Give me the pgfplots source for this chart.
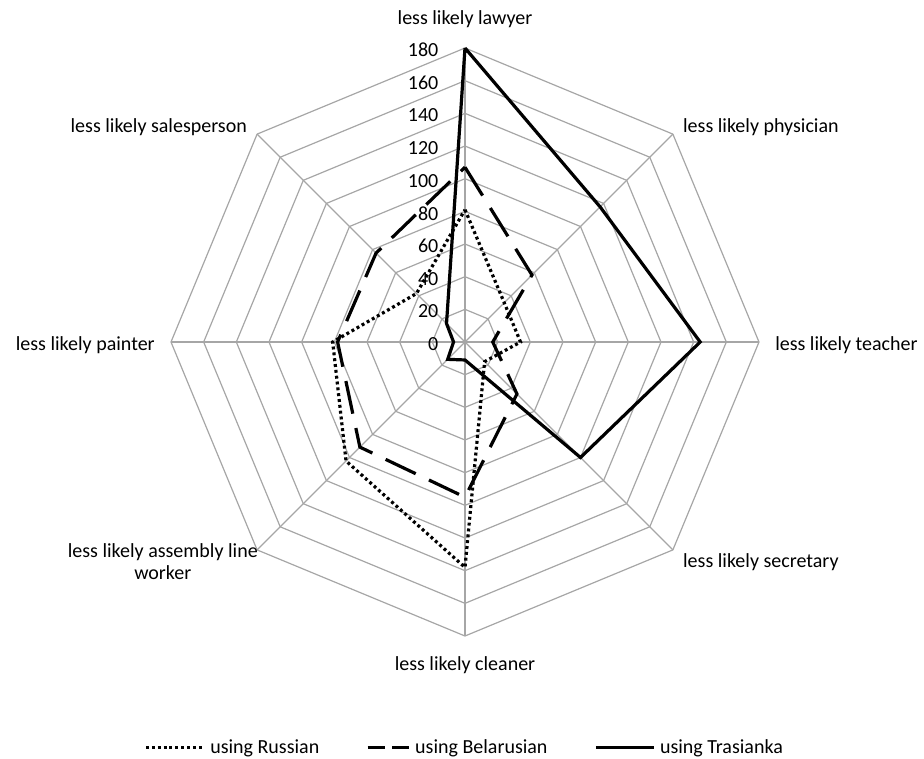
\documentclass[border=0pt]{standalone}
\usepackage{fontspec}
\setmainfont{Carlito}
\usepackage{pgfplots}
\pgfplotsset{compat=1.18}
\usepgfplotslibrary{polar}

\definecolor{gridgray}{RGB}{166,166,166}

% legend samples
\pgfplotsset{
  longsample/.style={legend image code/.code={\draw[##1] (0pt,0pt) -- (43.5pt,0pt);}},
  dashsample/.style={legend image code/.code={\draw[##1, dash pattern=on 13pt off 5.5pt] (0pt,0pt) -- (31pt,0pt);}},
}

\begin{document}
\begin{tikzpicture}[font=\fontsize{15}{18}\selectfont]
\path[use as bounding box] (-348.75pt,-312pt) rectangle (344.25pt,256.5pt);
\begin{polaraxis}[
  at={(0pt,0pt)}, anchor=center,
  scale only axis, width=441pt, height=441pt,
  ymin=0, ymax=180,
  hide axis, clip=false,
  legend columns=3,
  legend style={at={(0.5,-0.189)}, anchor=center, draw=none, fill=none,
    font=\fontsize{15}{18}\selectfont,
    /tikz/every odd column/.append style={column sep=1.5pt},
    /tikz/every even column/.append style={column sep=33pt}},
  grid/.style={forget plot, draw=gridgray, line width=0.9pt},
  series/.style={black, line width=2.4pt, line join=miter, line cap=butt, mark=none},
]
% octagonal rings every 20 units
\addplot[grid] coordinates {(0,20)(45,20)(90,20)(135,20)(180,20)(225,20)(270,20)(315,20)(360,20)};
\addplot[grid] coordinates {(0,40)(45,40)(90,40)(135,40)(180,40)(225,40)(270,40)(315,40)(360,40)};
\addplot[grid] coordinates {(0,60)(45,60)(90,60)(135,60)(180,60)(225,60)(270,60)(315,60)(360,60)};
\addplot[grid] coordinates {(0,80)(45,80)(90,80)(135,80)(180,80)(225,80)(270,80)(315,80)(360,80)};
\addplot[grid] coordinates {(0,100)(45,100)(90,100)(135,100)(180,100)(225,100)(270,100)(315,100)(360,100)};
\addplot[grid] coordinates {(0,120)(45,120)(90,120)(135,120)(180,120)(225,120)(270,120)(315,120)(360,120)};
\addplot[grid] coordinates {(0,140)(45,140)(90,140)(135,140)(180,140)(225,140)(270,140)(315,140)(360,140)};
\addplot[grid] coordinates {(0,160)(45,160)(90,160)(135,160)(180,160)(225,160)(270,160)(315,160)(360,160)};
\addplot[grid] coordinates {(0,180)(45,180)(90,180)(135,180)(180,180)(225,180)(270,180)(315,180)(360,180)};
% spokes
\addplot[grid] coordinates {(0,0)(0,180)};
\addplot[grid] coordinates {(45,0)(45,180)};
\addplot[grid] coordinates {(90,0)(90,180)};
\addplot[grid] coordinates {(135,0)(135,180)};
\addplot[grid] coordinates {(180,0)(180,180)};
\addplot[grid] coordinates {(225,0)(225,180)};
\addplot[grid] coordinates {(270,0)(270,180)};
\addplot[grid] coordinates {(315,0)(315,180)};

% value labels along the top spoke
\node[anchor=east, xshift=-16.5pt, yshift=-1.5pt] at (axis cs:90,0) {0};
\node[anchor=east, xshift=-16.5pt, yshift=-1.5pt] at (axis cs:90,20) {20};
\node[anchor=east, xshift=-16.5pt, yshift=-1.5pt] at (axis cs:90,40) {40};
\node[anchor=east, xshift=-16.5pt, yshift=-1.5pt] at (axis cs:90,60) {60};
\node[anchor=east, xshift=-16.5pt, yshift=-1.5pt] at (axis cs:90,80) {80};
\node[anchor=east, xshift=-16.5pt, yshift=-1.5pt] at (axis cs:90,100) {100};
\node[anchor=east, xshift=-16.5pt, yshift=-1.5pt] at (axis cs:90,120) {120};
\node[anchor=east, xshift=-16.5pt, yshift=-1.5pt] at (axis cs:90,140) {140};
\node[anchor=east, xshift=-16.5pt, yshift=-1.5pt] at (axis cs:90,160) {160};
\node[anchor=east, xshift=-16.5pt, yshift=-1.5pt] at (axis cs:90,180) {180};

% category labels
\node[anchor=base, inner sep=0pt, yshift=18pt] at (axis cs:90,180) {less likely lawyer};
\node[anchor=base west, inner sep=0pt, xshift=7.5pt, yshift=1pt] at (axis cs:45,180) {less likely physician};
\node[anchor=base west, inner sep=0pt, xshift=12pt, yshift=-6.4pt] at (axis cs:0,180) {less likely teacher};
\node[anchor=base west, inner sep=0pt, xshift=7.5pt, yshift=-13pt] at (axis cs:315,180) {less likely secretary};
\node[anchor=base, inner sep=0pt, yshift=-26pt] at (axis cs:270,180) {less likely cleaner};
\node[anchor=base east, inner sep=0pt, align=center, xshift=0.7pt, yshift=-22pt] at (axis cs:225,180) {less likely assembly line\\[-2pt]worker};
\node[anchor=base east, inner sep=0pt, xshift=-12pt, yshift=-6.4pt] at (axis cs:180,180) {less likely painter};
\node[anchor=base east, inner sep=0pt, xshift=-7.5pt, yshift=1pt] at (axis cs:135,180) {less likely salesperson};

% using Russian
\addplot[series, dash pattern=on 2.2pt off 2.2pt, longsample]
  coordinates {(90,81)(45,34)(0,34)(315,17)(270,138)(225,103)(180,81)(135,42)(90,81)};
\addlegendentry{using Russian}
% using Belarusian
\addplot[series, dash pattern=on 25pt off 11pt, dashsample]
  coordinates {(90,107)(45,58)(0,17)(315,45)(270,95)(225,91)(180,78)(135,77)(90,107)};
\addlegendentry{using Belarusian}
% using Trasianka
\addplot[series, longsample]
  coordinates {(90,180)(45,117)(0,144)(315,100)(270,11)(225,15)(180,7)(135,16)(90,180)};
\addlegendentry{using Trasianka}
\end{polaraxis}
\end{tikzpicture}
\end{document}
